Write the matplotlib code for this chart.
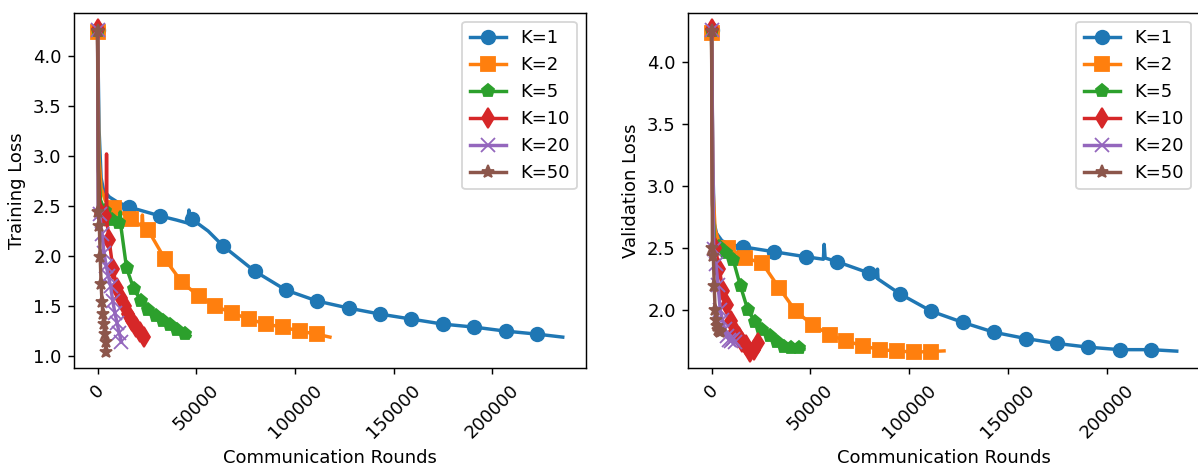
import matplotlib
matplotlib.use("Agg")
import matplotlib.pyplot as plt

# Loss curves per local-step setting K (values read at the marker positions)
labels = ["K=1", "K=2", "K=5", "K=10", "K=20", "K=50"]
markers = ["o", "s", "p", "d", "x", "*"]

# K=1
rounds_k1 = [0, 15900, 31800, 47700, 63600, 79500, 95400, 111300, 127200, 143100,
             159000, 174900, 190800, 206700, 222600]
train_k1 = [4.26, 2.49, 2.40, 2.37, 2.10, 1.85, 1.66, 1.55, 1.48, 1.42, 1.37, 1.32, 1.29, 1.25, 1.22]
val_k1 = [4.26, 2.51, 2.47, 2.43, 2.39, 2.30, 2.13, 1.99, 1.90, 1.82, 1.77, 1.73, 1.70, 1.68, 1.68]
train_k1_extra = [(800, 3.25), (1800, 2.78), (3000, 2.66), (6000, 2.59), (10000, 2.54),
                  (40000, 2.36), (45500, 2.33), (46300, 2.46), (46800, 2.36), (56000, 2.25),
                  (235600, 1.19)]
val_k1_extra = [(600, 3.2), (1350, 2.70), (2500, 2.62), (5200, 2.56), (9000, 2.53),
                (56600, 2.41), (57000, 2.53), (57500, 2.42), (83700, 2.26), (84000, 2.33),
                (84300, 2.25), (235500, 1.668)]

# K=2
rounds_k2 = [0, 8530, 17060, 25590, 34120, 42650, 51180, 59710, 68240, 76770, 85300,
             93830, 102360, 110890]
train_k2 = [4.24, 2.48, 2.37, 2.26, 1.97, 1.74, 1.60, 1.50, 1.43, 1.37, 1.32, 1.29, 1.25, 1.22]
val_k2 = [4.24, 2.50, 2.42, 2.38, 2.18, 1.99, 1.88, 1.80, 1.75, 1.71, 1.68, 1.67, 1.66, 1.665]
train_k2_extra = [(700, 3.0), (1800, 2.68), (4000, 2.55), (22400, 2.30), (22700, 2.41),
                  (23000, 2.30), (117700, 1.19)]
val_k2_extra = [(700, 3.0), (1800, 2.65), (4000, 2.54), (117700, 1.67)]

# K=5
rounds_k5 = [0, 3670, 7350, 11020, 14700, 18370, 22040, 25720, 29390, 33070, 36740, 40410, 44090]
train_k5 = [4.25, 2.45, 2.36, 2.33, 1.88, 1.67, 1.55, 1.46, 1.40, 1.35, 1.31, 1.26, 1.22]
val_k5 = [4.25, 2.51, 2.46, 2.40, 2.19, 2.00, 1.90, 1.84, 1.79, 1.74, 1.70, 1.69, 1.69]
train_k5_extra = [(500, 2.85), (1500, 2.56), (11300, 2.32), (11500, 2.44), (11800, 2.30),
                  (46800, 1.20)]
val_k5_extra = [(500, 2.85), (1500, 2.58), (46800, 1.685)]

# K=10
rounds_k10 = [0, 1950, 3900, 5850, 7800, 9750, 11700, 13650, 15600, 17550, 19500, 21450, 23400]
train_k10 = [4.27, 2.42, 2.40, 2.16, 1.87, 1.68, 1.58, 1.50, 1.42, 1.35, 1.29, 1.24, 1.19]
val_k10 = [4.27, 2.50, 2.33, 2.15, 2.04, 1.91, 1.83, 1.78, 1.74, 1.72, 1.66, 1.68, 1.73]
train_k10_extra = [(400, 2.9), (1000, 2.55), (4400, 2.38), (4550, 3.02), (4700, 2.35),
                   (24500, 1.16)]
val_k10_extra = [(400, 2.9), (1000, 2.56)]

# K=20
rounds_k20 = [0, 1100, 2200, 3300, 4400, 5500, 6600, 7700, 8800, 9900, 11000, 12100]
train_k20 = [4.26, 2.42, 2.22, 2.03, 1.90, 1.80, 1.70, 1.55, 1.43, 1.33, 1.23, 1.14]
val_k20 = [4.26, 2.49, 2.37, 2.20, 2.00, 1.92, 1.85, 1.79, 1.76, 1.75, 1.77, 1.74]
train_k20_extra = [(300, 2.47)]
val_k20_extra = []

# K=50
rounds_k50 = [0, 450, 900, 1350, 1800, 2250, 2700, 3150, 3600, 4050, 4500]
train_k50 = [4.25, 2.44, 2.30, 1.99, 1.72, 1.54, 1.42, 1.32, 1.22, 1.14, 1.04]
val_k50 = [4.25, 2.50, 2.44, 2.19, 2.00, 1.92, 1.87, 1.84, 1.83, 1.82, 1.83]
train_k50_extra = []
val_k50_extra = []

all_rounds = [rounds_k1, rounds_k2, rounds_k5, rounds_k10, rounds_k20, rounds_k50]
all_train = [train_k1, train_k2, train_k5, train_k10, train_k20, train_k50]
all_val = [val_k1, val_k2, val_k5, val_k10, val_k20, val_k50]
all_train_extra = [train_k1_extra, train_k2_extra, train_k5_extra, train_k10_extra,
                   train_k20_extra, train_k50_extra]
all_val_extra = [val_k1_extra, val_k2_extra, val_k5_extra, val_k10_extra,
                 val_k20_extra, val_k50_extra]


def merge(rounds, loss, extra):
    # combine marker points with the in-between points, remember marker indices
    pts = [(r, l, True) for r, l in zip(rounds, loss)] + [(r, l, False) for r, l in extra]
    pts.sort(key=lambda p: p[0])
    xs = [p[0] for p in pts]
    ys = [p[1] for p in pts]
    marks = [i for i, p in enumerate(pts) if p[2]]
    return xs, ys, marks


fig = plt.figure(figsize=(1198 / 130, 469 / 130), dpi=130)
ax1 = fig.add_axes([74.3 / 1198, 1 - 368.3 / 469, 511.7 / 1198, 355.6 / 469])
ax2 = fig.add_axes([688.3 / 1198, 1 - 368.3 / 469, 511.7 / 1198, 355.6 / 469])

for ax, losses, extras, ylabel in [(ax1, all_train, all_train_extra, "Training Loss"),
                                   (ax2, all_val, all_val_extra, "Validation Loss")]:
    for rounds, loss, extra, lab, mk in zip(all_rounds, losses, extras, labels, markers):
        xs, ys, marks = merge(rounds, loss, extra)
        ax.plot(xs, ys, marker=mk, markevery=marks, markersize=7.5, linewidth=1.9, label=lab)
    ax.set_xlabel("Communication Rounds")
    ax.set_ylabel(ylabel)
    ax.legend(loc="upper right")
    ax.tick_params(axis="x", labelrotation=45)

fig.savefig("out.png", dpi=130)
